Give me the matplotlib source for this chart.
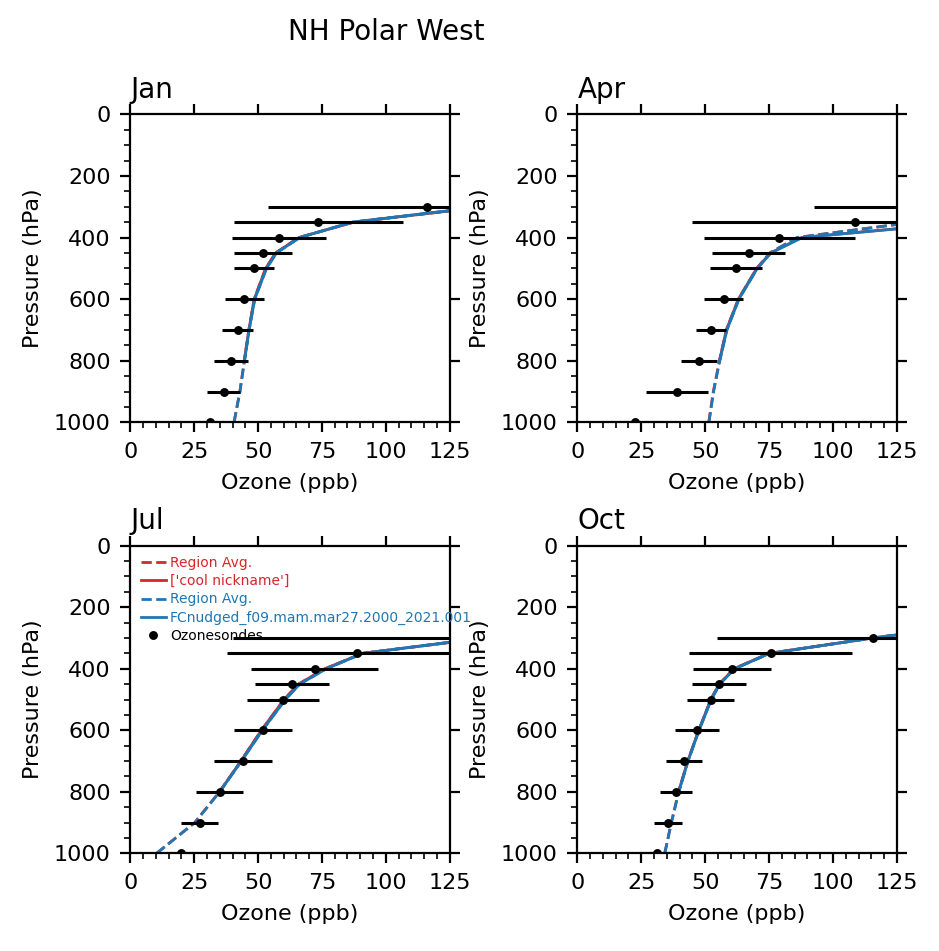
import matplotlib
matplotlib.use('Agg')
import matplotlib.pyplot as plt
from matplotlib.ticker import MultipleLocator

# ---------------- data ----------------
months = ['Jan', 'Apr', 'Jul', 'Oct']

sonde_p = [300, 350, 400, 450, 500, 600, 700, 800, 900, 1000]
sonde_mean = {
    'Jan': [116.0, 73.6, 58.3, 52.0, 48.4, 44.6, 42.0, 39.5, 36.5, 31.1],
    'Apr': [160.0, 108.5, 79.0, 67.0, 62.1, 57.2, 52.3, 47.7, 39.1, 22.6],
    'Jul': [135.0, 88.7, 72.1, 63.3, 59.8, 52.0, 44.2, 35.0, 27.2, 19.8],
    'Oct': [115.8, 75.6, 60.5, 55.5, 52.1, 46.8, 41.8, 38.7, 35.5, 31.0],
}
sonde_std = {
    'Jan': [62.0, 33.0, 18.4, 11.4, 8.0, 7.7, 6.0, 6.7, 6.4, 6.0],
    'Apr': [67.5, 63.6, 29.5, 14.3, 10.2, 7.6, 6.0, 7.1, 12.2, 10.0],
    'Jul': [94.7, 50.8, 24.8, 14.5, 14.1, 11.4, 11.4, 9.2, 7.3, 6.0],
    'Oct': [61.0, 31.8, 15.2, 10.6, 9.2, 8.6, 7.1, 6.3, 5.5, 5.0],
}

model_p = [1000, 900, 800, 700, 600, 500, 450, 400, 350, 300, 250]
solid_p = [800, 700, 600, 500, 450, 400, 350, 300, 250]

red_avg = {
    'Jan': [40.6, 42.9, 44.6, 46.4, 48.5, 53.0, 56.9, 66.0, 87.5, 139.0, 250.0],
    'Apr': [51.4, 53.2, 55.6, 58.3, 63.0, 70.2, 75.3, 86.0, 132.0, 250.0, 400.0],
    'Jul': [10.3, 25.2, 34.9, 43.3, 51.3, 60.2, 65.8, 76.2, 90.8, 139.0, 250.0],
    'Oct': [34.2, 36.8, 39.6, 43.2, 47.5, 52.2, 55.5, 61.3, 75.0, 115.5, 163.0],
}
red_case = {
    'Jan': [44.6, 46.4, 48.5, 53.0, 56.9, 66.0, 87.5, 139.0, 250.0],
    'Apr': [55.6, 58.3, 63.0, 70.2, 75.6, 87.8, 153.0, 300.0, 450.0],
    'Jul': [34.9, 43.3, 51.3, 60.2, 65.8, 76.2, 90.8, 139.0, 250.0],
    'Oct': [39.6, 43.2, 47.5, 52.2, 55.5, 61.3, 75.0, 115.5, 163.0],
}
blue_avg = {
    'Jan': [40.6, 42.9, 44.7, 46.5, 48.7, 53.3, 57.2, 66.3, 87.0, 138.0, 250.0],
    'Apr': [51.5, 53.3, 55.7, 58.5, 63.2, 70.4, 75.5, 86.0, 132.0, 250.0, 400.0],
    'Jul': [10.3, 25.3, 35.0, 43.5, 51.7, 60.7, 66.3, 76.7, 91.0, 138.0, 250.0],
    'Oct': [34.2, 36.8, 39.7, 43.3, 47.6, 52.4, 55.7, 61.5, 75.2, 115.5, 163.0],
}
blue_case = {
    'Jan': [44.7, 46.5, 48.7, 53.3, 57.2, 66.3, 87.0, 138.0, 250.0],
    'Apr': [55.7, 58.5, 63.2, 70.4, 75.8, 88.0, 154.0, 300.0, 450.0],
    'Jul': [35.0, 43.5, 51.7, 60.7, 66.3, 76.7, 91.0, 138.0, 250.0],
    'Oct': [39.7, 43.3, 47.6, 52.4, 55.7, 61.5, 75.2, 115.5, 163.0],
}

labels = ['Region Avg.', "['cool nickname']", 'Region Avg.',
          'FCnudged_f09.mam.mar27.2000_2021.001', 'Ozonesondes']

# ---------------- figure ----------------
RED = '#d62728'
BLUE = '#1f77b4'
fig = plt.figure(figsize=(939 / 200, 951 / 200), dpi=200)

positions = {
    'Jan': [0.13877, 0.55594, 0.34015, 0.32387],
    'Apr': [0.61480, 0.55594, 0.34040, 0.32387],
    'Jul': [0.13877, 0.10273, 0.34015, 0.32345],
    'Oct': [0.61480, 0.10273, 0.34040, 0.32345],
}

for m in months:
    ax = fig.add_axes(positions[m])
    ax.plot(red_avg[m], model_p, '--', color=RED, lw=1, label=labels[0])
    ax.plot(red_case[m], solid_p, '-', color=RED, lw=1, label=labels[1])
    ax.plot(blue_avg[m], model_p, '--', color=BLUE, lw=1, label=labels[2])
    ax.plot(blue_case[m], solid_p, '-', color=BLUE, lw=1, label=labels[3])
    ax.errorbar(sonde_mean[m], sonde_p, xerr=sonde_std[m], fmt='none',
                ecolor='k', elinewidth=1.1, capsize=0)
    ax.plot(sonde_mean[m], sonde_p, 'o', color='k', ms=2.2, label=labels[4])

    ax.set_xlim(0, 125)
    ax.set_ylim(1000, 0)
    ax.xaxis.set_major_locator(MultipleLocator(25))
    ax.xaxis.set_minor_locator(MultipleLocator(5))
    ax.yaxis.set_major_locator(MultipleLocator(200))
    ax.yaxis.set_minor_locator(MultipleLocator(50))
    ax.tick_params(which='major', top=True, right=True, labelsize=8)
    ax.tick_params(which='minor', top=False, right=False)
    ax.set_xlabel('Ozone (ppb)', fontsize=8)
    ax.set_ylabel('Pressure (hPa)', fontsize=8)
    ax.set_title(m, loc='left', fontsize=10)

    if m == 'Jul':
        ax.legend(loc='upper left', frameon=False, fontsize=5,
                  labelcolor='linecolor', labelspacing=0.3,
                  handlelength=1.8, handletextpad=0.3, borderpad=0.25)

fig.text(386 / 939, 1 - 31.5 / 951, 'NH Polar West', ha='center', va='center',
         fontsize=10)

fig.savefig('out.png', dpi=200)
